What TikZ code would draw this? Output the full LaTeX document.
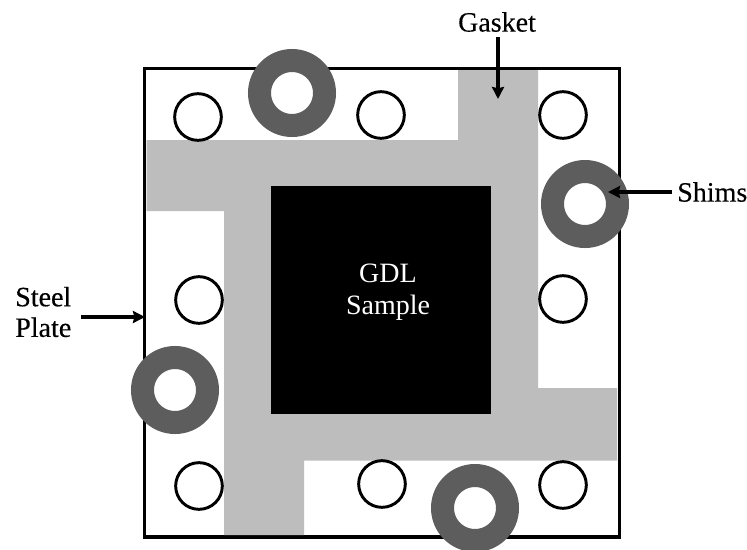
\documentclass[tikz,border=0pt]{standalone}
\usepackage{fontspec}
\setmainfont{Liberation Serif}
\usetikzlibrary{arrows.meta}
\tikzset{
 hole/.style={circle,draw=black,line width=2.2pt,fill=white,minimum size=35pt,inner sep=0pt,outer sep=0pt},
 shim/.style={circle,draw=shimgray,line width=17.25pt,fill=white,minimum size=48.75pt,inner sep=0pt,outer sep=0pt},
 lab/.style={font=\fontsize{21}{23}\selectfont\addfontfeature{FakeBold=0.3},inner sep=0pt,align=left},
 arr/.style={line width=2.6pt,-{Stealth[length=9pt,width=9pt,inset=1pt]}}
}
\definecolor{shimgray}{gray}{0.365}
\definecolor{gasket}{gray}{0.74}
\begin{document}
\begin{tikzpicture}[x=0.75pt,y=-0.75pt]
\useasboundingbox (0,0) rectangle (747,550);
\fill[white] (0,0) rectangle (747,550);
\node[draw=black,line width=2.6pt,fill=white,minimum width=356.25pt,minimum height=351.4pt,inner sep=0pt,outer sep=0pt,anchor=north west] (plate) at (144.7,68.5) {};
\fill[gasket] (458,70) -- (538,70) -- (538,388) -- (617,388) -- (617,460.5) -- (304,460.5) -- (304,535) -- (224,535) -- (224,211) -- (146.7,211) -- (146.7,140) -- (458,140) -- cycle;
\node[hole] (h1) at (198,117) {};
\node[hole] (h2) at (381,115) {};
\node[hole] (h3) at (563,115) {};
\node[hole] (h4) at (199,300) {};
\node[hole] (h5) at (563,299) {};
\node[hole] (h6) at (199,486) {};
\node[hole] (h7) at (382,484) {};
\node[hole] (h8) at (563,485) {};
\node[fill=black,minimum width=165pt,minimum height=171pt,inner sep=0pt,outer sep=0pt,anchor=north west] (gdl) at (271,186) {};
\node[text=white,inner sep=0pt,align=center,font=\fontsize{21}{24}\selectfont] (gdltext) at (388,292.5) {GDL\\Sample};
\node[shim] (s1) at (292,93) {};
\node[shim] (s2) at (585,204) {};
\node[shim] (s3) at (175,390) {};
\node[shim] (s4) at (475,508) {};
\node[lab,anchor=center] (gasket) at (497,22) {Gasket};
\node[lab,anchor=west] (shims) at (677,192) {Shims};
\node[lab,anchor=west] (steel) at (15,312) {Steel\\Plate};
\coordinate (gasketstart) at (498,37);
\coordinate (gasketend) at (498,99);
\coordinate (shimstart) at (672,192);
\coordinate (shimend) at (608,192);
\coordinate (platestart) at (81,317);
\coordinate (plateend) at (145,317);
\draw[arr] (gasketstart) -- (gasketend);
\draw[arr] (shimstart) -- (shimend);
\draw[arr] (platestart) -- (plateend);
\end{tikzpicture}
\end{document}
